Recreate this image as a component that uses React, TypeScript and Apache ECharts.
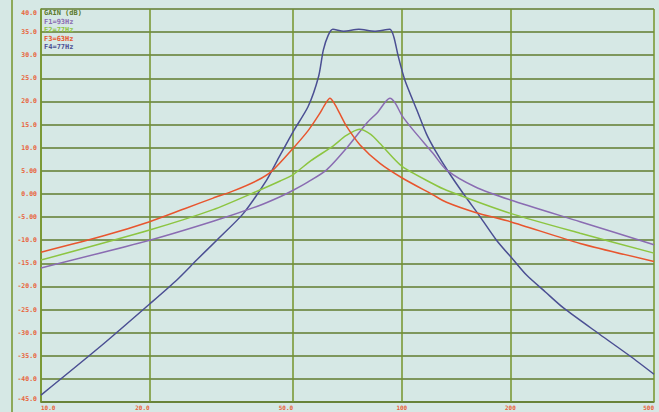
import React, { useEffect, useRef } from "react";
import * as echarts from "echarts";

// ---- data ----
const xTicks = [10, 20, 50, 100, 200, 500];
const xTickLabels = ["10.0", "20.0", "50.0", "100", "200", "500"];
const legendLabels = ["GAIN (dB)", "F1=93Hz", "F2=77Hz", "F3=63Hz", "F4=77Hz"];

const f1Freq = [10, 20, 30, 40, 46, 50, 55, 61.9, 70.3, 79.9, 86, 90, 92.7, 96, 100, 107.6, 122, 133, 160, 200, 312, 500];
const f1Gain = [-16.0, -10.0, -5.9, -2.6, -0.6, 0.8, 2.6, 5.2, 9.9, 15.3, 17.8, 19.9, 20.7, 19.6, 17.0, 13.8, 8.8, 5.2, 1.5, -1.3, -6.0, -11.0];

const f2Freq = [10, 20, 30, 40, 46, 50, 56, 64.6, 70, 76.3, 82, 87, 100, 122, 133, 200, 312, 500];
const f2Gain = [-14.3, -7.8, -3.4, 0.7, 2.8, 4.2, 7.2, 10.4, 12.6, 14.0, 12.9, 10.9, 6.0, 2.2, 0.8, -4.2, -8.5, -12.8];

const f3Freq = [10, 15, 20, 25, 30, 34, 39.7, 43.7, 50, 55, 59, 61.5, 63.2, 65, 67.4, 70.3, 76.6, 87, 100, 122, 133, 160, 200, 312, 500];
const f3Gain = [-12.6, -9.0, -6.0, -3.2, -0.9, 0.6, 2.9, 5.0, 9.9, 13.7, 17.2, 19.6, 20.7, 19.6, 17.3, 14.6, 10.6, 6.6, 3.5, -0.2, -1.8, -4.0, -6.0, -10.7, -14.6];

const f4Freq = [10, 14.6, 20, 23.8, 27, 30.7, 36.4, 42.2, 45, 50, 55, 58.8, 60.6, 62.5, 64.4, 69, 76, 84, 92.7, 95, 97.8, 102, 110, 117, 123.6, 134.6, 148, 164.7, 183, 204, 222, 250, 280, 354, 428, 500];
const f4Gain = [-43.5, -33.0, -23.8, -18.6, -14.3, -10.0, -4.2, 3.0, 7.0, 13.5, 18.9, 25.4, 31.1, 34.3, 35.6, 35.2, 35.6, 35.2, 35.6, 34.0, 29.7, 24.6, 18.2, 13.0, 9.5, 4.8, 0.1, -4.9, -10.0, -14.3, -17.6, -21.2, -24.6, -30.4, -35.0, -39.0];

// ---- styles ----
const BG = "#d6e8e5";
const HGRID = "#617d2e";
const VGRID = "#74952b";
const LABEL = "#e8633a";
const C_F1 = "#8a6cb2";
const C_F2 = "#8cc541";
const C_F3 = "#e8552e";
const C_F4 = "#4b4f93";
const legendColors = ["#5a7a2a", C_F1, C_F2, C_F3, C_F4];
const legendY = [12.5, 21.5, 30, 38.5, 47];
const xLabelAlign = ["left", "right", "right", "center", "center", "right"];
const XFONT = 'bold 6px "DejaVu Sans Mono", monospace';

function fmtY(v: number): string {
  if (Math.abs(v) < 10) return v.toFixed(2);
  return v.toFixed(1);
}

export default function App() {
  const ref = useRef<HTMLDivElement>(null);
  useEffect(() => {
    const chart = echarts.init(ref.current!, null, { renderer: "svg" });
    const mk = (name: string, freq: number[], gain: number[], color: string, extra: any = {}) => ({
      name,
      type: "line",
      data: freq.map((f, i) => [f, gain[i]]),
      smooth: 0.25,
      symbol: "none",
      showSymbol: false,
      lineStyle: { color, width: 1.5 },
      itemStyle: { color },
      z: 3,
      ...extra,
    });
    chart.setOption({
      animation: false,
      backgroundColor: BG,
      grid: { left: 41, right: 5, top: 9, bottom: 10 },
      xAxis: {
        type: "log",
        logBase: 10,
        min: 10,
        max: 500,
        axisLine: { show: true, onZero: false, lineStyle: { color: HGRID, width: 1.5 } },
        axisTick: { show: false },
        axisLabel: { show: false },
        splitLine: { show: false },
      },
      yAxis: {
        type: "value",
        min: -45,
        max: 40,
        interval: 5,
        axisLine: { show: true, lineStyle: { color: VGRID, width: 1.5 } },
        axisTick: { show: false },
        splitLine: { show: true, lineStyle: { color: HGRID, width: 1.5 } },
        axisLabel: {
          color: LABEL,
          fontFamily: '"DejaVu Sans Mono", monospace',
          fontWeight: "bold",
          fontSize: 6.5,
          margin: 4,
          formatter: (v: number) => fmtY(v),
          verticalAlignMinLabel: "bottom",
          verticalAlignMaxLabel: "top",
        },
      },
      series: [
        mk("F4", f4Freq, f4Gain, C_F4, {
          markLine: {
            silent: true,
            symbol: ["none", "none"],
            label: { show: false },
            lineStyle: { type: "solid", color: VGRID, width: 1.5 },
            data: xTicks.map((v) => ({ xAxis: v })),
            z: 1,
          },
        }),
        mk("F1", f1Freq, f1Gain, C_F1),
        mk("F2", f2Freq, f2Gain, C_F2),
        mk("F3", f3Freq, f3Gain, C_F3),
      ],
    });

    const gfx: any[] = [
      { type: "line", shape: { x1: 12, y1: 0, x2: 12, y2: 412 }, style: { stroke: VGRID, lineWidth: 1.5 } },
    ];
    xTicks.forEach((v, i) => {
      const p = chart.convertToPixel({ xAxisIndex: 0, yAxisIndex: 0 }, [v, -45]) as number[];
      gfx.push({
        type: "text",
        x: p[0],
        y: p[1] + 5,
        style: {
          text: xTickLabels[i],
          fill: LABEL,
          font: XFONT,
          align: xLabelAlign[i],
          textAlign: xLabelAlign[i],
          verticalAlign: "middle",
          textVerticalAlign: "middle",
        },
      });
    });
    const origin = chart.convertToPixel({ xAxisIndex: 0, yAxisIndex: 0 }, [10, 40]) as number[];
    legendLabels.forEach((t, i) => {
      gfx.push({
        type: "text",
        x: origin[0] + 3,
        y: legendY[i],
        style: {
          text: t,
          fill: legendColors[i],
          font: 'bold 7px "DejaVu Sans Mono", monospace',
          align: "left",
          textAlign: "left",
          verticalAlign: "middle",
          textVerticalAlign: "middle",
        },
      });
    });
    chart.setOption({ graphic: gfx });

    return () => chart.dispose();
  }, []);
  return (
    <div
      ref={ref}
      style={{ position: "fixed", left: 0, top: 0, width: 659, height: 412 }}
    />
  );
}
